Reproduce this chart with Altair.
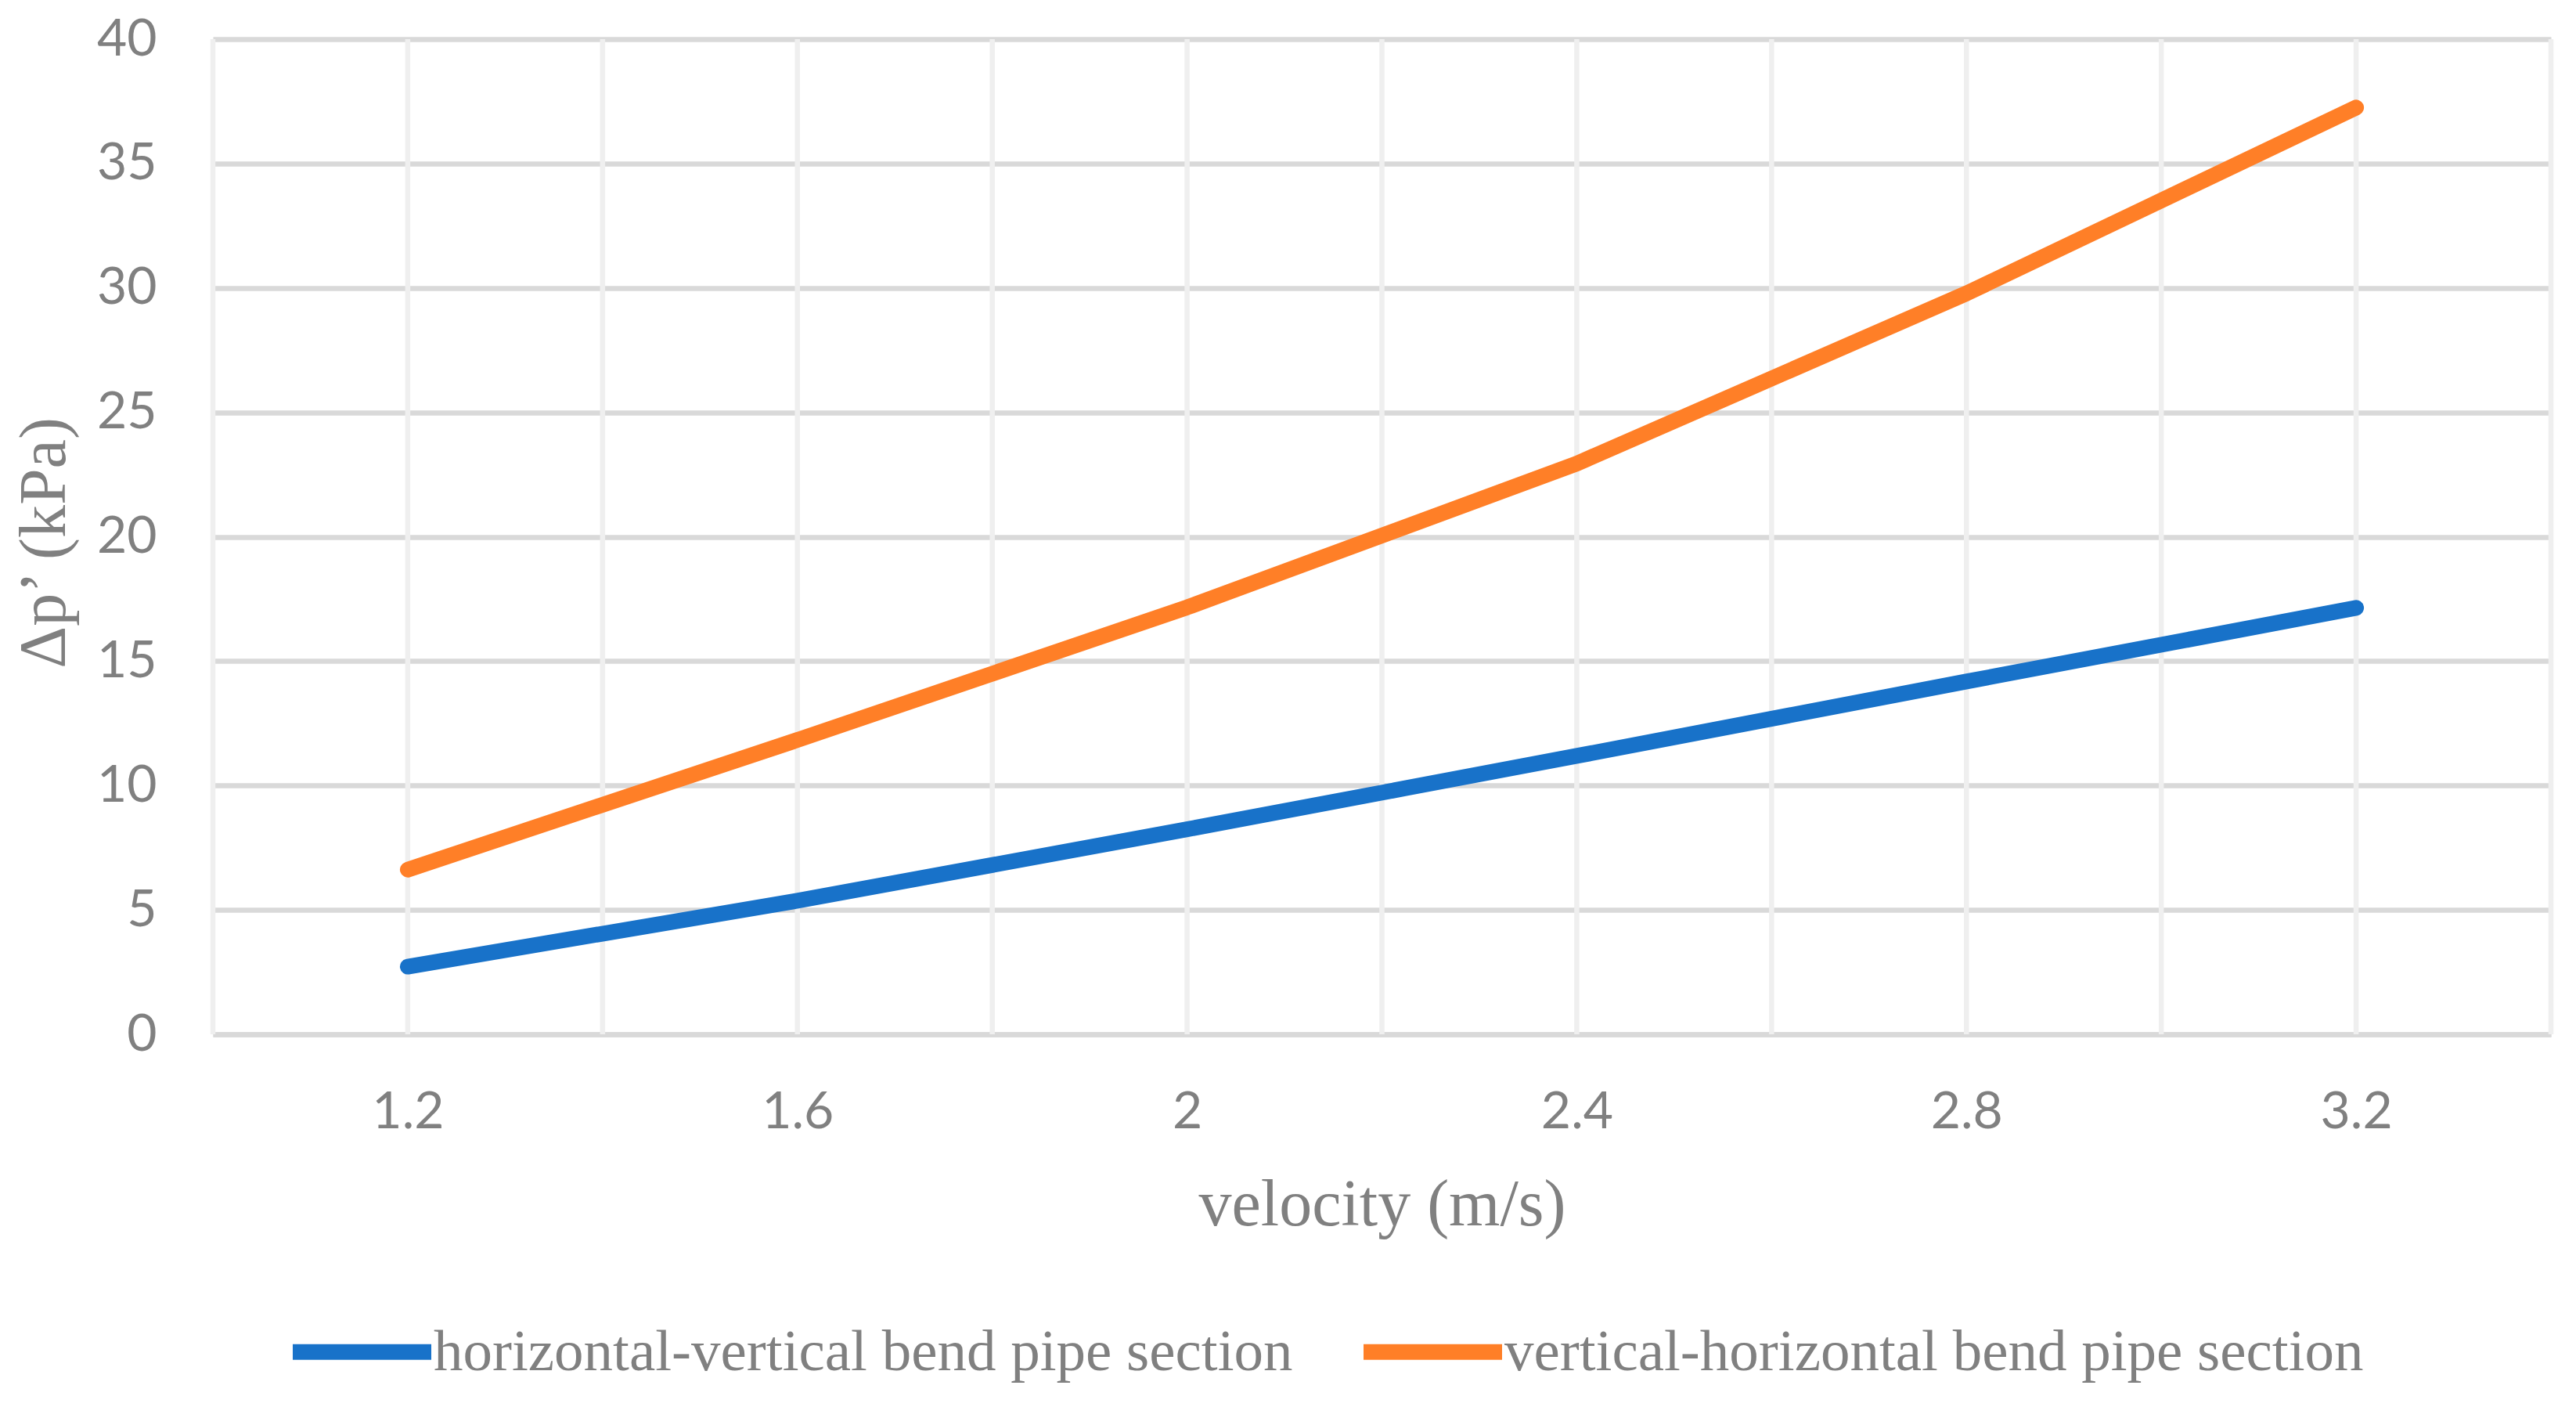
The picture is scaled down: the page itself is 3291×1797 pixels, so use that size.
import altair as alt
import pandas as pd

velocity = [1.2, 1.6, 2.0, 2.4, 2.8, 3.2]
hv_values = [2.72, 5.37, 8.24, 11.19, 14.18, 17.14]
vh_values = [6.62, 11.83, 17.16, 22.94, 29.78, 37.25]
series_names = ["horizontal-vertical bend pipe section", "vertical-horizontal bend pipe section"]
series_colors = ["#1872C9", "#FF7F27"]
x_label_values = [1.2, 1.6, 2.0, 2.4, 2.8, 3.2]
x_grid_values = [1.0, 1.2, 1.4, 1.6, 1.8, 2.0, 2.2, 2.4, 2.6, 2.8, 3.0, 3.2, 3.4]
y_tick_values = [0, 5, 10, 15, 20, 25, 30, 35, 40]

rows = []
for name, vals in zip(series_names, [hv_values, vh_values]):
    for v, p in zip(velocity, vals):
        rows.append({"velocity": v, "dp": p, "series": name})
df = pd.DataFrame(rows)
grid_df = pd.DataFrame({"velocity": x_grid_values})

W, H = 2987, 1271
GRAY = "#808080"

x_scale = alt.Scale(domain=[1.0, 3.4], nice=False, zero=False)
y_scale = alt.Scale(domain=[0, 40], nice=False)

x_axis = alt.Axis(
    values=x_label_values,
    format="~g",
    grid=False,
    ticks=False,
    tickSize=0,
    domain=True,
    domainColor="#D9D9D9",
    domainWidth=6.5,
    labelFont="Lato",
    labelFontSize=66,
    labelColor=GRAY,
    labelPadding=67,
    title="velocity (m/s)",
    titleFont="Liberation Serif",
    titleFontSize=84,
    titleFontWeight="normal",
    titleColor=GRAY,
    titleBaseline="alphabetic",
    titleX=W / 2,
    titleY=243,
    titleAlign="center",
)

vgrid = alt.Chart(grid_df).mark_rule(color="#EFEFEF", strokeWidth=6.5).encode(
    x=alt.X("velocity:Q", scale=x_scale, axis=x_axis, title="velocity (m/s)")
)

lines = alt.Chart(df).mark_line(strokeWidth=20, strokeCap="round", strokeJoin="round").encode(
    x=alt.X("velocity:Q", scale=x_scale, axis=x_axis, title="velocity (m/s)"),
    y=alt.Y(
        "dp:Q",
        scale=y_scale,
        axis=alt.Axis(
            values=y_tick_values,
            grid=True,
            gridColor="#D9D9D9",
            gridWidth=6.5,
            ticks=False,
            tickSize=0,
            domain=False,
            labelFont="Lato",
            labelFontSize=66,
            labelColor=GRAY,
            labelPadding=72,
            title="Δp’ (kPa)",
            titleFont="Liberation Serif",
            titleFontSize=84,
            titleFontWeight="normal",
            titleColor=GRAY,
            titleAngle=270,
            titleBaseline="alphabetic",
            titleAlign="center",
            titleX=-190,
            titleY=643,
        ),
    ),
    color=alt.Color(
        "series:N",
        scale=alt.Scale(domain=series_names, range=series_colors),
        sort=series_names,
        legend=alt.Legend(
            title=None,
            orient="none",
            direction="horizontal",
            legendX=92,
            legendY=1578,
            symbolType="stroke",
            symbolSize=177 * 177,
            symbolStrokeWidth=20,
            labelFont="Liberation Serif",
            labelFontSize=75,
            labelColor=GRAY,
            labelLimit=3000,
            labelOffset=alt.ExprRef("-7"),
            columnPadding=50,
            padding=0,
        ),
    ),
)

chart = (
    alt.layer(vgrid, lines)
    .properties(
        width=W,
        height=H,
        autosize=alt.AutoSizeParams(type="none"),
        padding={"left": 264, "top": 42, "right": 16, "bottom": 460},
    )
    .configure_view(stroke=None)
)

chart.save("out.html", embed_options={"renderer": "svg", "actions": False})
